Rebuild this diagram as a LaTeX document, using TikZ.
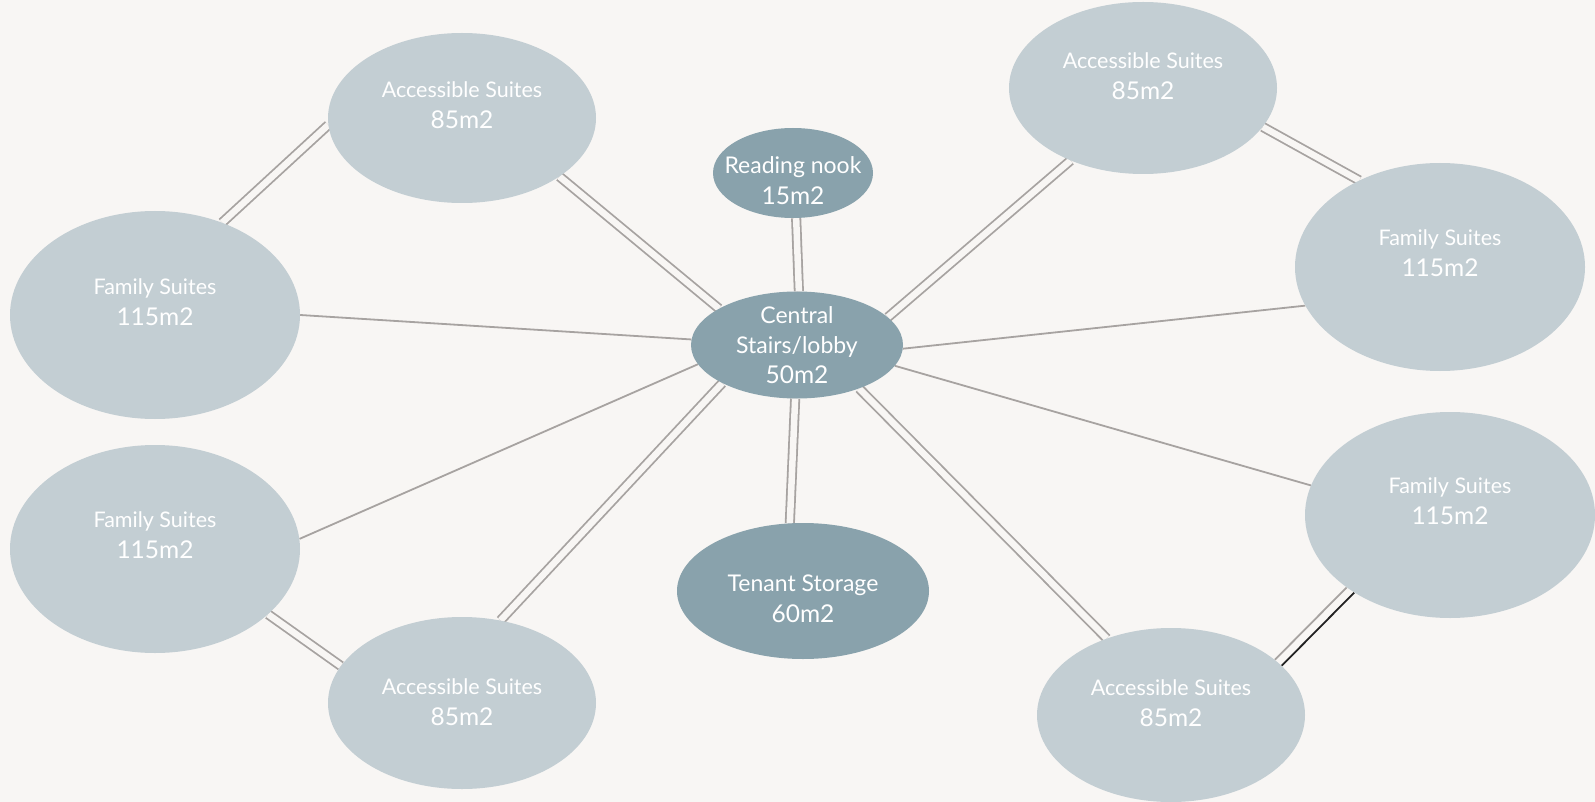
\documentclass[tikz,border=0pt]{standalone}
\usepackage{fontspec}
\setmainfont{Lato}
\usetikzlibrary{shapes.geometric,backgrounds}
\definecolor{paper}{HTML}{F8F6F4}
\definecolor{suitefill}{HTML}{C3CED3}
\definecolor{corefill}{HTML}{89A2AC}
\definecolor{linkgray}{HTML}{A7A3A1}
\definecolor{linkdark}{HTML}{222222}
\newcommand{\roomsize}[1]{{\fontsize{24.5}{30}\selectfont #1}}
\tikzset{
  suite/.style={ellipse, fill=suitefill, inner sep=0pt},
  core/.style={ellipse, fill=corefill, inner sep=0pt},
  lab/.style={text=white, align=center, font=\fontsize{21.5}{31}\selectfont},
  link/.style={draw=linkgray, line width=1.8pt, double=paper, double distance=6.5pt},
  wire/.style={draw=linkgray, line width=1.8pt},
}
\begin{document}
\begin{tikzpicture}[x=1pt, y=-1pt, line join=round]
  \useasboundingbox (0,0) rectangle (1595,802);
  % middle column
  \node[core, minimum width=212pt, minimum height=107pt,
    label={[lab, font=\fontsize{23}{30}\selectfont]center:{Central\\Stairs/lobby\\\roomsize{50m2}}}] (cen) at (797,345) {};
  \node[core, minimum width=160pt, minimum height=90pt,
    label={[lab, font=\fontsize{23}{31}\selectfont, yshift=-8pt]center:{Reading nook\\\roomsize{15m2}}}] (read) at (793,173) {};
  \node[core, minimum width=252pt, minimum height=136pt,
    label={[lab, font=\fontsize{23}{31}\selectfont, yshift=-8pt]center:{Tenant Storage\\\roomsize{60m2}}}] (sto) at (803,591) {};
  % left side
  \node[suite, minimum width=268pt, minimum height=170pt,
    label={[lab, yshift=13pt]center:{Accessible Suites\\\roomsize{85m2}}}] (atl) at (462,118) {};
  \node[suite, minimum width=290pt, minimum height=208pt,
    label={[lab, yshift=13pt]center:{Family Suites\\\roomsize{115m2}}}] (ftl) at (155,315) {};
  \node[suite, minimum width=290pt, minimum height=208pt,
    label={[lab, yshift=14pt]center:{Family Suites\\\roomsize{115m2}}}] (fl2) at (155,549) {};
  \node[suite, minimum width=268pt, minimum height=172pt,
    label={[lab, yshift=1pt]center:{Accessible Suites\\\roomsize{85m2}}}] (abl) at (462,703) {};
  % right side
  \node[suite, minimum width=268pt, minimum height=172pt,
    label={[lab, yshift=12pt]center:{Accessible Suites\\\roomsize{85m2}}}] (atr) at (1143,88) {};
  \node[suite, minimum width=290pt, minimum height=208pt,
    label={[lab, yshift=14pt]center:{Family Suites\\\roomsize{115m2}}}] (ftr) at (1440,267) {};
  \node[suite, minimum width=290pt, minimum height=206pt,
    label={[lab, yshift=14pt]center:{Family Suites\\\roomsize{115m2}}}] (fr2) at (1450,515) {};
  \node[suite, minimum width=268pt, minimum height=174pt,
    label={[lab, yshift=12pt]center:{Accessible Suites\\\roomsize{85m2}}}] (abr) at (1171,715) {};
  \begin{scope}[on background layer]
    \fill[paper] (0,0) rectangle (1595,802);
    \draw[link] (atl.183) -- (ftl.54);
    \draw[link] (atl.329) -- (cen.155);
    \draw[link] (read.274) -- (cen.88);
    \draw[link] (cen.17) -- (atr.225);
    \draw[link] (atr.342) -- (ftr.133);
    \draw[wire] (cen.358) -- (ftr.196);
    \draw[wire] (cen.348) -- (fr2.168);
    \draw[link] (cen.325) -- (abr.130);
    \draw[wire] (fr2.215) -- (abr.28);
    \draw[wire, draw=linkdark] (fr2.219) -- (abr.24);
    \draw[link] (cen.268) -- (sto.101);
    \draw[link] (cen.207) -- (abl.65);
    \draw[wire] (cen.191) -- (fl2.4);
    \draw[wire] (cen.177) -- (ftl.0);
    \draw[link] (fl2.330) -- (abl.163);
  \end{scope}
\end{tikzpicture}
\end{document}
